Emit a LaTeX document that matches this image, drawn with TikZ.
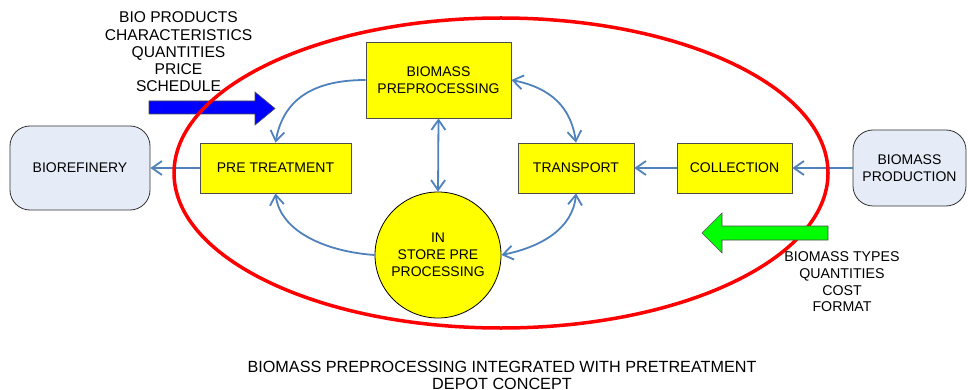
\documentclass[tikz,border=0pt]{standalone}
\usepackage{fontspec}
\setmainfont{Liberation Sans}
\usetikzlibrary{arrows.meta}
\definecolor{connblue}{HTML}{4F81BD}
\definecolor{boxyellow}{HTML}{FFFF00}
\definecolor{endfill}{HTML}{E5ECF7}
\definecolor{ringred}{HTML}{FF0000}
\definecolor{bluearrow}{HTML}{0000FF}
\definecolor{greenarrow}{HTML}{00FF00}
\begin{document}
\begin{tikzpicture}[x=1pt,y=-1pt,
  every node/.style={font=\fontsize{14}{17}\selectfont, align=center, inner sep=0pt, text=black},
  ybox/.style={draw=black!70, fill=boxyellow, line width=0.8pt, rectangle},
  endbox/.style={draw=black!80, fill=endfill, line width=0.8pt, rectangle, rounded corners=20pt},
  barb/.tip={Straight Barb[length=10pt,width=14pt]},
  conn/.style={draw=connblue, line width=1.8pt, -barb},
  dconn/.style={draw=connblue, line width=1.8pt, barb-barb},
  bigarrow/.style={draw=black!70, line width=0.6pt}
]
\useasboundingbox (0,0) rectangle (968,390);

% background fat arrow (under the ring)
\draw[bigarrow, fill=bluearrow] (149,101) -- (255,101) -- (255,92) -- (275,108.5) -- (255,125) -- (255,114) -- (149,114) -- cycle;

% nodes
\node[endbox, minimum width=140, minimum height=84] (bio) at (80,168) {BIOREFINERY};
\node[ybox, minimum width=151, minimum height=50] (pt) at (275.5,168) {PRE TREATMENT};
\node[ybox, minimum width=145, minimum height=76] (bp) at (438.5,80) {BIOMASS\\PREPROCESSING};
\node[ybox, minimum width=116, minimum height=50] (tr) at (576,168) {TRANSPORT};
\node[ybox, minimum width=115, minimum height=50] (col) at (734.5,168) {COLLECTION};
\node[endbox, minimum width=113, minimum height=76] (prod) at (909.5,168) {BIOMASS\\PRODUCTION};
\node[draw=black, line width=0.8pt, fill=boxyellow, circle, minimum size=126] (circ) at (438,255) {IN\\STORE PRE\\PROCESSING};

% connectors
\draw[conn] (pt) -- (bio);
\draw[conn] (prod) -- (col);
\draw[conn] (col) -- (tr);
\draw[conn] (bp.west) .. controls +(-50,0) and +(8,-45) .. (pt.north);
\draw[dconn] (bp.south) -- (circ.north);
\draw[dconn] (bp.east) .. controls +(40,8) and +(-5,-35) .. (tr.north);
\draw[dconn] (circ.east) .. controls +(40,-8) and +(-3,35) .. (tr.south);
\draw[conn] (circ.west) .. controls +(-45,-3) and +(5,40) .. (pt.south);

% depot ring
\draw[ringred, line width=3.5pt] (501,173) ellipse [x radius=327, y radius=155];

% green arrow (over the ring)
\draw[bigarrow, fill=greenarrow] (828,226) -- (722,226) -- (722,213) -- (702,233) -- (722,253) -- (722,240) -- (828,240) -- cycle;

% texts
\node[font=\fontsize{15.6}{17.3}\selectfont] (outtext) at (178.5,52) {BIO PRODUCTS\\CHARACTERISTICS\\QUANTITIES\\PRICE\\SCHEDULE};
\node[font=\fontsize{14.2}{16.7}\selectfont] (intext) at (842,282) {BIOMASS TYPES\\QUANTITIES\\COST\\FORMAT};
\node[font=\fontsize{16.2}{17}\selectfont] (caption) at (502,375.5) {BIOMASS PREPROCESSING INTEGRATED WITH PRETREATMENT\\DEPOT CONCEPT};
\end{tikzpicture}
\end{document}
